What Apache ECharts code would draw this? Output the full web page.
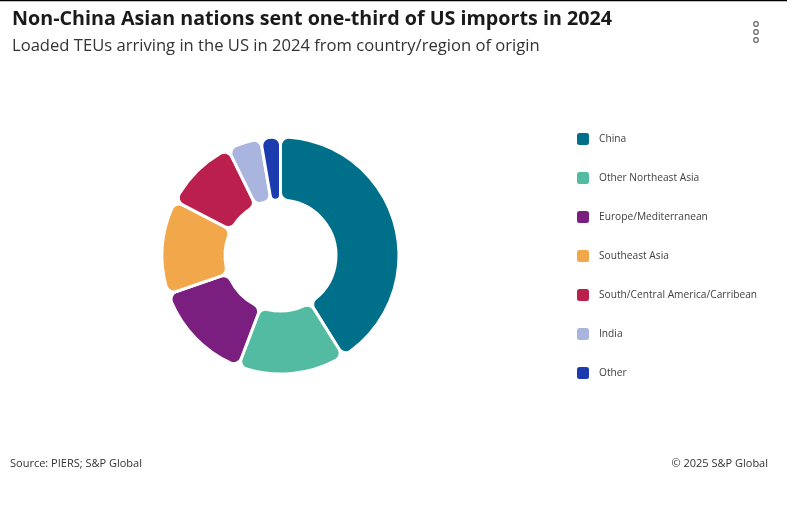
<!DOCTYPE html>
<html>
<head>
<meta charset="utf-8">
<script src="https://cdn.jsdelivr.net/npm/echarts@6/dist/echarts.min.js"></script>
<style>
html,body{margin:0;padding:0;background:#fff;}
#chart{width:800px;height:505px;}
</style>
</head>
<body>
<div id="chart"></div>
<script>
// Data (share of loaded TEUs, %)
const categories = ["China", "Other Northeast Asia", "Europe/Mediterranean", "Southeast Asia", "South/Central America/Carribean", "India", "Other"];
const shares = [41.1, 14.7, 13.9, 12.9, 10.1, 4.6, 2.7];
const colors = ["#006F89", "#52BBA1", "#7A1F7F", "#F2A74A", "#BA1F4E", "#A9B5DF", "#1B3BAE"];

const titleText = "Non-China Asian nations sent one-third of US imports in 2024";
const subtitleText = "Loaded TEUs arriving in the US in 2024 from country/region of origin";
const sourceText = "Source: PIERS; S&P Global";
const copyrightText = "© 2025 S&P Global";

const chart = echarts.init(document.getElementById('chart'), null, {renderer: 'canvas'});

const pieData = categories.map((c, i) => ({
  name: c,
  value: shares[i],
  itemStyle: {color: colors[i]}
}));

chart.setOption({
  animation: false,
  backgroundColor: '#ffffff',
  title: [{
    text: titleText,
    left: 12, top: 9, padding: 0,
    textStyle: {fontFamily: 'Open Sans', fontWeight: 'bold', fontSize: 19.7, color: '#1a1a1a'}
  }, {
    text: subtitleText,
    left: 12, top: 38, padding: 0,
    textStyle: {fontFamily: 'Open Sans', fontWeight: 'normal', fontSize: 16.6, color: '#333333'}
  }],
  legend: {
    orient: 'vertical',
    left: 570, top: 126,
    itemWidth: 14, itemHeight: 14,
    itemGap: 23,
    icon: 'roundRect',
    data: categories,
    textStyle: {fontFamily: 'Open Sans', fontSize: 10.2, color: '#404040', padding: [0, 0, 0, 4]}
  },
  series: [{
    type: 'pie',
    center: [280.5, 255.5],
    radius: [55.5, 118.5],
    startAngle: 90,
    clockwise: true,
    label: {show: false},
    labelLine: {show: false},
    itemStyle: {borderRadius: 8, borderColor: '#ffffff', borderWidth: 3},
    emphasis: {disabled: true},
    data: pieData
  }],
  graphic: [
    {type: 'line', shape: {x1: 0, y1: 0.5, x2: 787, y2: 0.5}, style: {stroke: '#000', lineWidth: 1.5}},
    {type: 'circle', shape: {cx: 756, cy: 24, r: 2.3}, style: {fill: '#fff', stroke: '#666', lineWidth: 1.2}},
    {type: 'circle', shape: {cx: 756, cy: 32, r: 2.3}, style: {fill: '#fff', stroke: '#666', lineWidth: 1.2}},
    {type: 'circle', shape: {cx: 756, cy: 40, r: 2.3}, style: {fill: '#fff', stroke: '#666', lineWidth: 1.2}},
    {type: 'text', left: 10, top: 458, style: {text: sourceText, font: '11px "Open Sans"', fill: '#333'}},
    {type: 'text', right: 32, top: 458, style: {text: copyrightText, font: '11px "Open Sans"', fill: '#333'}}
  ]
});
</script>
</body>
</html>
